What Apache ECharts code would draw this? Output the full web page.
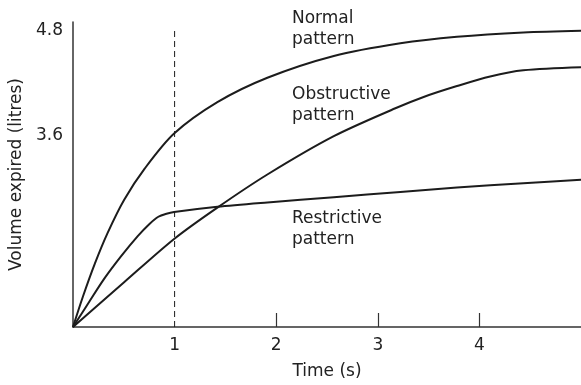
<!DOCTYPE html>
<html>
<head>
<meta charset="utf-8">
<script src="https://cdn.jsdelivr.net/npm/echarts@6.0.0/dist/echarts.min.js"></script>
<style>
  html, body { margin: 0; padding: 0; background: #fff; }
  #spiro { width: 581px; height: 385px; }
</style>
</head>
<body>
<div id="spiro"></div>
<script>
// values (time in s, volume on the printed litre scale)
const normalTime = [0, 0.098, 0.216, 0.341, 0.504, 0.707, 0.995, 1.421, 1.913, 2.567, 3.222, 3.779, 4.433, 5.0]
const normalVolume = [1.4, 1.75, 2.13, 2.48, 2.86, 3.22, 3.62, 3.98, 4.26, 4.51, 4.655, 4.73, 4.78, 4.80]
const obstructiveTime = [0, 0.5, 0.995, 1.421, 1.913, 2.567, 3.173, 3.451, 3.779, 4.106, 4.433, 5.0]
const obstructiveVolume = [1.4, 1.91, 2.41, 2.77, 3.15, 3.59, 3.91, 4.04, 4.165, 4.275, 4.345, 4.38]
const restrictiveTime = [0, 0.16, 0.308, 0.472, 0.635, 0.75, 0.84, 0.92, 0.995, 1.421, 1.913, 2.567, 3.222, 3.779, 4.433, 5.0]
const restrictiveVolume = [1.4, 1.69, 1.955, 2.21, 2.44, 2.58, 2.665, 2.70, 2.72, 2.78, 2.83, 2.89, 2.95, 3.00, 3.05, 3.09]
const xTickLabels = [1, 2, 3, 4]
const xTickMarks = [2, 3, 4]
const yTickLabels = [3.6, 4.8]
// dashed guide at one second
const guideTime = [1, 1]
const guideVolume = [1.4, 4.84]

const FONT = '"DejaVu Sans", sans-serif'
const INK = '#1c1c1c'

const zip = (xs, ys) => xs.map((x, i) => [x, ys[i]])

const curve = (name, xs, ys) => ({
  name,
  type: 'line',
  data: zip(xs, ys),
  smooth: 0.3,
  showSymbol: false,
  silent: true,
  lineStyle: { color: INK, width: 2 }
})

const chart = echarts.init(document.getElementById('spiro'))
chart.setOption({
  animation: false,
  grid: { left: 72, right: 0, top: 22, bottom: 54 },
  xAxis: {
    type: 'value',
    min: 0,
    max: 5,
    name: 'Time (s)',
    nameLocation: 'middle',
    nameGap: 36,
    nameTextStyle: { fontFamily: FONT, fontSize: 17, color: '#222' },
    axisLine: { lineStyle: { color: '#333', width: 1.5 } },
    axisTick: { show: true, inside: true, length: 14, customValues: xTickMarks, lineStyle: { color: '#333', width: 1.2 } },
    axisLabel: { customValues: xTickLabels, margin: 10, fontFamily: FONT, fontSize: 17, color: '#222' },
    splitLine: { show: false }
  },
  yAxis: {
    type: 'value',
    min: 1.4,
    max: 4.9,
    name: 'Volume expired (litres)',
    nameLocation: 'middle',
    nameGap: 48,
    nameTextStyle: { fontFamily: FONT, fontSize: 17, color: '#222' },
    axisLine: { show: true, lineStyle: { color: '#333', width: 1.5 } },
    axisTick: { show: false },
    axisLabel: {
      customValues: yTickLabels,
      margin: 10,
      fontFamily: FONT,
      fontSize: 17,
      color: '#222',
      formatter: v => v.toFixed(1)
    },
    splitLine: { show: false }
  },
  series: [
    {
      name: 'guide',
      type: 'line',
      data: zip(guideTime, guideVolume),
      showSymbol: false,
      silent: true,
      lineStyle: { color: INK, width: 1, type: [6, 4] }
    },
    curve('Normal', normalTime, normalVolume),
    curve('Obstructive', obstructiveTime, obstructiveVolume),
    curve('Restrictive', restrictiveTime, restrictiveVolume)
  ],
  graphic: [
    { type: 'text', left: 292, top: 8, style: { text: 'Normal\npattern', font: '17px ' + FONT, fill: '#222', lineHeight: 21 } },
    { type: 'text', left: 292, top: 84, style: { text: 'Obstructive\npattern', font: '17px ' + FONT, fill: '#222', lineHeight: 21 } },
    { type: 'text', left: 292, top: 208, style: { text: 'Restrictive\npattern', font: '17px ' + FONT, fill: '#222', lineHeight: 21 } }
  ]
})
</script>
</body>
</html>
